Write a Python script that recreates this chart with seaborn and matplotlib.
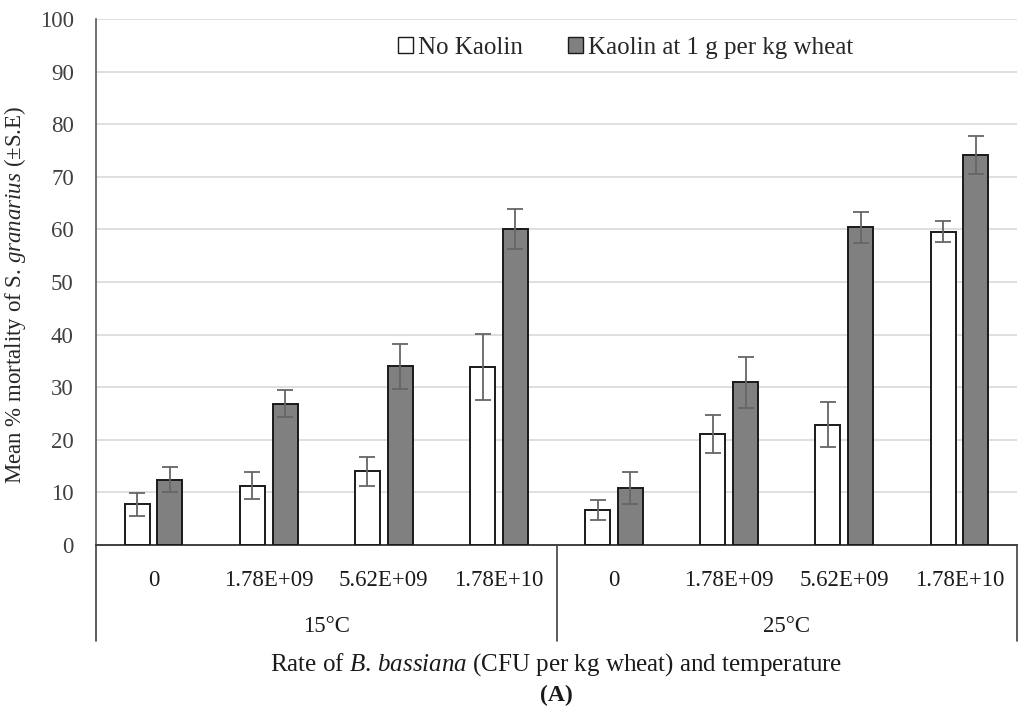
import matplotlib
matplotlib.use("Agg")
import numpy as np
import pandas as pd
import seaborn as sns
from matplotlib import pyplot as plt
from matplotlib.patches import Patch
import matplotlib.transforms as mtransforms

# data
temperatures = ["15°C", "25°C"]
rates = ["0", "1.78E+09", "5.62E+09", "1.78E+10"]
treatments = ["No Kaolin", "Kaolin at 1 g per kg wheat"]
no_kaolin_mean = [7.7, 11.3, 14.0, 33.8, 6.6, 21.1, 22.9, 59.6]
no_kaolin_se = [2.1, 2.5, 2.8, 6.3, 1.9, 3.6, 4.3, 2.0]
kaolin_mean = [12.4, 26.9, 34.0, 60.0, 10.8, 30.9, 60.4, 74.2]
kaolin_se = [2.4, 2.6, 4.3, 3.8, 3.0, 4.8, 2.9, 3.6]

sns.set_theme(style="white")
plt.rcParams["font.family"] = ["Liberation Serif", "DejaVu Serif"]
plt.rcParams["mathtext.fontset"] = "custom"
plt.rcParams["mathtext.rm"] = "Liberation Serif"
plt.rcParams["mathtext.it"] = "Liberation Serif:italic"

cats = [f"{t} {r}" for t in temperatures for r in rates]
df = pd.DataFrame({
    "cat": cats * 2,
    "treat": [treatments[0]] * 8 + [treatments[1]] * 8,
    "mean": no_kaolin_mean + kaolin_mean,
    "se": no_kaolin_se + kaolin_se,
})

W, H = 1024, 716
fig = plt.figure(figsize=(W / 100, H / 100), dpi=100)
ax = fig.add_axes([96 / W, 1 - 545 / H, (1017 - 96) / W, (545 - 19) / H])

palette = {treatments[0]: "white", treatments[1]: "#808080"}
sns.barplot(data=df, x="cat", y="mean", hue="treat", order=cats,
            hue_order=treatments, palette=palette, width=0.57, gap=0.24,
            edgecolor="#1a1a1a", linewidth=1.4, errorbar=None, legend=False,
            ax=ax, zorder=3)

# error bars at bar centres
for cont, t in zip(ax.containers, treatments):
    sub = df[df.treat == t]
    xs = [p.get_x() + p.get_width() / 2 for p in cont]
    ax.errorbar(xs, sub["mean"], yerr=sub["se"], fmt="none", ecolor="#666666",
                elinewidth=1.3, capsize=6, capthick=1.3, zorder=4)

ax.set_ylim(0, 100)
ax.set_xlim(-0.5, 7.5)
ax.set_yticks(range(0, 101, 10))
ax.yaxis.grid(True, color="#d9d9d9", linewidth=1.2, zorder=0)
ax.set_axisbelow(True)
for s in ["top", "right"]:
    ax.spines[s].set_visible(False)
ax.spines["left"].set_color("#595959")
ax.spines["bottom"].set_color("#404040")
ax.spines["left"].set_linewidth(1.2)
ax.spines["bottom"].set_linewidth(1.4)
ax.tick_params(axis="y", length=0, labelsize=16.5, pad=16, colors="#404040")
ax.tick_params(axis="x", length=0, labelsize=16.5, pad=18, colors="#1a1a1a")
ax.set_xticks(range(len(cats)))
ax.set_xticklabels(rates * 2)
ax.set_xlabel("")
ax.set_ylabel(r"Mean % mortality of S. $granarius$ (±S.E)", fontsize=16.5)
ax.yaxis.set_label_coords(-0.074, 0.475)

# second level of the category axis
trans = mtransforms.blended_transform_factory(ax.transData, fig.transFigure)
y_low = 1 - 641 / H
for xv in [-0.5, 3.5, 7.5]:
    ax.plot([xv, xv], [1 - 545 / H, y_low], transform=trans, color="#404040",
            linewidth=1.2, clip_on=False)
for i, t in enumerate(temperatures):
    ax.text(1.5 + 4 * i, 1 - 627 / H, t, transform=trans, ha="center",
            va="center", fontsize=16.5, color="#1a1a1a")

fig.text((96 + 1017) / 2 / W, 1 - 665 / H,
         r"Rate of $B.\,bassiana$ (CFU per kg wheat) and temperature",
         ha="center", va="center", fontsize=18, color="#1a1a1a")
fig.text((96 + 1017) / 2 / W, 1 - 695 / H, "(A)", ha="center", va="center",
         fontsize=17, fontweight="bold", color="#1a1a1a")

handles = [Patch(facecolor=palette[t], edgecolor="#1a1a1a", linewidth=1.0)
           for t in treatments]
ax.legend(handles, treatments, loc="center", bbox_to_anchor=(0.575, 0.945),
          ncol=2, frameon=False, fontsize=18, handlelength=0.6,
          handleheight=0.6, handletextpad=0.2, columnspacing=1.8)

fig.savefig("out.png", dpi=100)
